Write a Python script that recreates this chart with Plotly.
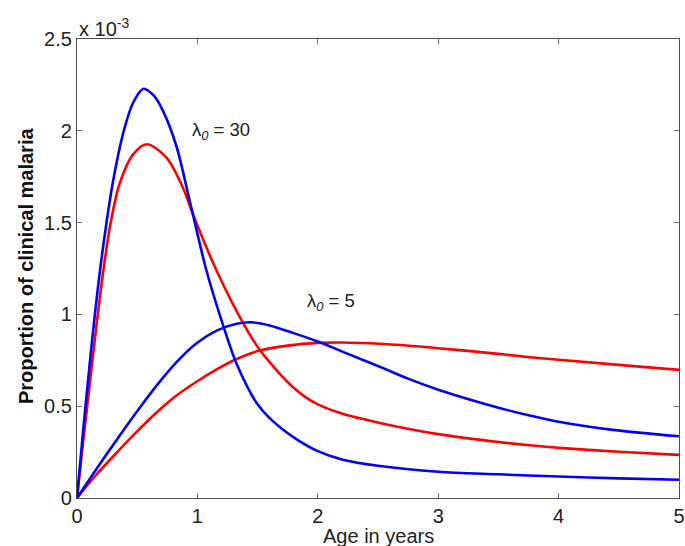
import plotly.graph_objects as go

# Values in units of 1e-3
age_b30 = [0, 0.05, 0.104, 0.15, 0.195, 0.245, 0.298, 0.381, 0.464, 0.553, 0.64, 0.713, 0.824,
           0.935, 1.074, 1.215, 1.323, 1.492, 1.6, 1.8, 2.0, 2.2, 2.515, 3.0, 3.5, 4.0, 4.5, 5.0]
val_b30 = [0, 0.36, 0.72, 1.01, 1.26, 1.50, 1.72, 1.98, 2.15, 2.229, 2.19, 2.11, 1.92,
           1.622, 1.242, 0.9375, 0.735, 0.517, 0.435, 0.33, 0.255, 0.21, 0.174, 0.143, 0.129,
           0.117, 0.107, 0.099]

age_r30 = [0, 0.05, 0.104, 0.16, 0.215, 0.28, 0.353, 0.464, 0.58, 0.741, 0.88, 0.963, 1.157,
           1.38, 1.517, 1.6, 1.7, 1.8, 1.9, 2.0, 2.2, 2.515, 3.0, 3.5, 3.76, 4.0, 4.5, 5.0]
val_r30 = [0, 0.30, 0.61, 0.93, 1.22, 1.50, 1.71, 1.87, 1.927, 1.855, 1.69, 1.545, 1.242,
           0.952, 0.807, 0.74, 0.665, 0.60, 0.548, 0.51, 0.46, 0.409, 0.348, 0.305, 0.287,
           0.273, 0.252, 0.235]

age_b5 = [0, 0.162, 0.328, 0.495, 0.661, 0.827, 0.993, 1.16, 1.326, 1.45, 1.6, 1.8, 2.0, 2.25,
          2.515, 2.75, 3.0, 3.5, 3.76, 4.0, 4.45, 5.0]
val_b5 = [0, 0.158, 0.315, 0.468, 0.612, 0.740, 0.843, 0.912, 0.949, 0.957, 0.94, 0.898, 0.852,
          0.785, 0.715, 0.65, 0.59, 0.492, 0.449, 0.415, 0.371, 0.336]

age_r5 = [0, 0.162, 0.328, 0.495, 0.661, 0.827, 0.993, 1.16, 1.326, 1.517, 1.75, 2.0, 2.2,
          2.515, 3.0, 3.5, 3.76, 4.0, 4.5, 5.0]
val_r5 = [0, 0.128, 0.246, 0.360, 0.466, 0.558, 0.633, 0.700, 0.757, 0.803, 0.830, 0.845, 0.847,
          0.84, 0.816, 0.785, 0.767, 0.753, 0.725, 0.698]

x_ticks = [0, 1, 2, 3, 4, 5]
y_ticks = [0, 0.5, 1, 1.5, 2, 2.5]
y_tick_labels = ["0", "0.5", "1", "1.5", "2", "2.5"]

FONT = "Liberation Sans, Arial, sans-serif"

fig = go.Figure()
for ax, ay, col in [(age_r5, val_r5, "#ff0000"), (age_r30, val_r30, "#ff0000"),
                    (age_b5, val_b5, "#0000ff"), (age_b30, val_b30, "#0000ff")]:
    fig.add_trace(go.Scatter(x=ax, y=ay, mode="lines",
                             line=dict(color=col, width=2.6, shape="spline", smoothing=0.9),
                             showlegend=False, hoverinfo="skip"))

axis_common = dict(showgrid=False, zeroline=False, showline=True, linecolor="#505050",
                   linewidth=1.3, mirror="allticks", ticks="inside", ticklen=5,
                   tickcolor="#707070", tickwidth=1, automargin=False,
                   tickfont=dict(family=FONT, size=20, color="#222222"))

fig.update_xaxes(range=[0, 5], tickvals=x_ticks, ticktext=[str(v) for v in x_ticks],
                 **axis_common)
fig.update_yaxes(range=[0, 2.5], tickvals=y_ticks, ticktext=y_tick_labels,
                 **axis_common)

# axis titles
fig.add_annotation(xref="paper", yref="paper", x=0.5, y=-0.083, xanchor="center",
                   yanchor="middle", text="Age in years", showarrow=False,
                   font=dict(family=FONT, size=20, color="#222222"))
fig.add_annotation(xref="paper", yref="paper", x=-0.085, y=0.505, xanchor="center",
                   yanchor="middle", textangle=-90,
                   text="<b>Proportion of clinical malaria</b>", showarrow=False,
                   font=dict(family=FONT, size=20, color="#111111"))

fig.add_annotation(xref="paper", yref="paper", x=0.0, y=1.0, xanchor="left", yanchor="bottom",
                   text="x 10<sup>-3</sup>", showarrow=False,
                   font=dict(family=FONT, size=20, color="#222222"), yshift=-3)
fig.add_annotation(x=0.935, y=2.0, xanchor="left", yanchor="middle",
                   text="λ<sub><i>0</i></sub> = 30", showarrow=False,
                   font=dict(family=FONT, size=18.5, color="#222222"))
fig.add_annotation(x=1.89, y=1.07, xanchor="left", yanchor="middle",
                   text="λ<sub><i>0</i></sub> = 5", showarrow=False,
                   font=dict(family=FONT, size=18.5, color="#222222"))

fig.update_layout(width=685, height=546, paper_bgcolor="white", plot_bgcolor="white",
                  margin=dict(l=77, r=6, t=39, b=48))

fig.write_html("out.html", config={"displayModeBar": False},
               post_script="document.body.style.margin='0px';document.body.style.overflow='hidden';")
